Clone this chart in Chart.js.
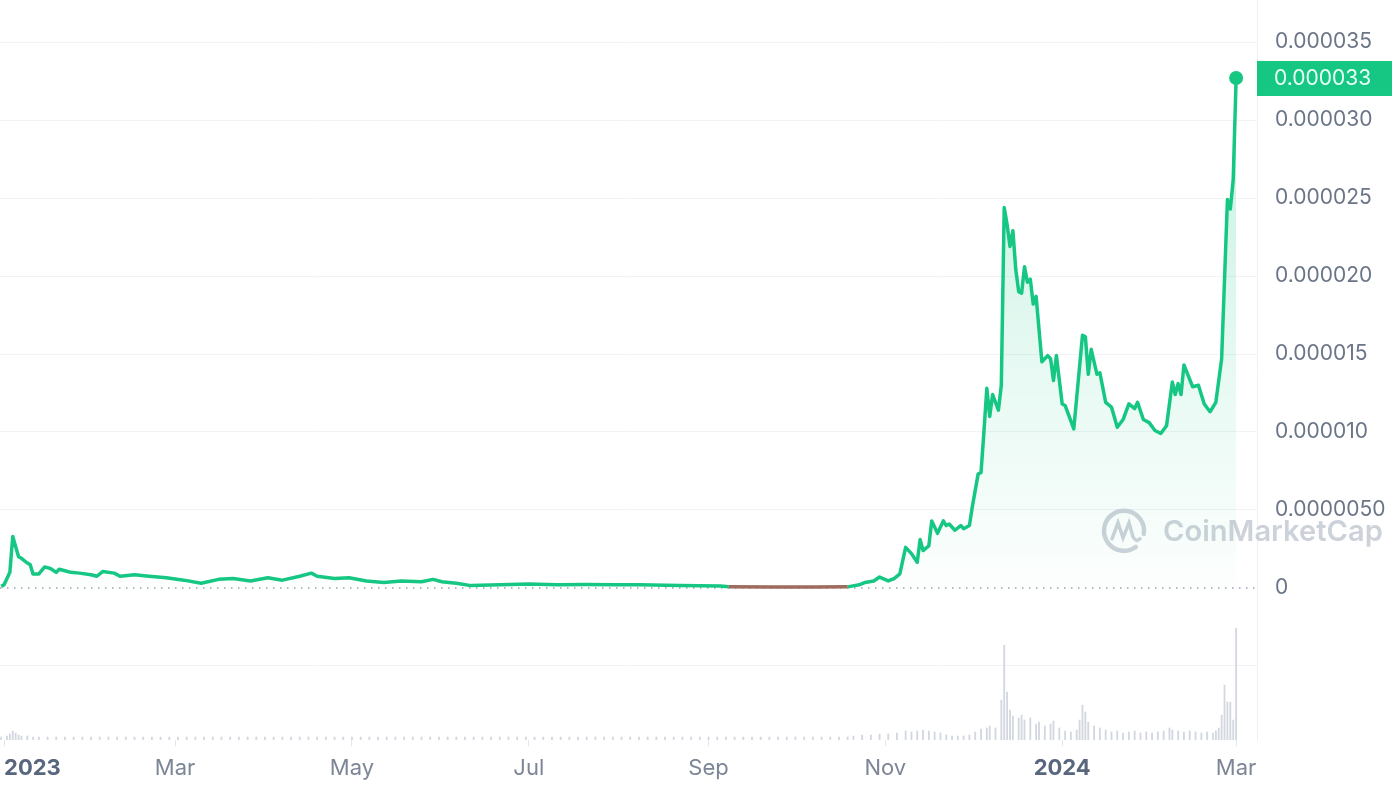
<!DOCTYPE html>
<html>
<head>
<meta charset="utf-8">
<script src="https://cdn.jsdelivr.net/npm/chart.js@4.4.1/dist/chart.umd.min.js"></script>
<style>
  html, body { margin: 0; padding: 0; background: #fff; }
  canvas { display: block; }
</style>
</head>
<body>
<canvas id="priceChart" width="1392" height="792"></canvas>
<script>
// days counted from 1 Jan 2023, price in millionths of a dollar
const priceDays = [
  -1, 0, 2, 3, 5, 6, 8, 9, 10, 12,
  14, 16, 18, 19, 21, 23, 26, 30, 32, 34,
  38, 40, 45, 50, 56, 62, 68, 74, 79, 85,
  91, 96, 102, 106, 108, 114, 119, 125, 131, 137,
  144, 148, 151, 156, 161, 171, 181, 191, 201, 211,
  219, 233, 247, 250, 265, 280, 291, 295, 297, 300,
  302, 305, 307, 309, 311, 313, 315, 316, 317, 319,
  320, 322, 324, 325, 326, 328, 330, 331, 333, 334,
  336, 337, 338, 339, 340, 341, 343, 344, 345, 346,
  347, 348, 349, 350, 351, 352, 353, 354, 355, 356,
  358, 360, 361, 362, 363, 365, 366, 369, 372, 373,
  374, 375, 377, 378, 380, 382, 384, 386, 388, 390,
  391, 393, 395, 397, 399, 401, 403, 404, 405, 406,
  407, 410, 412, 414, 416, 418, 420, 422, 423, 424,
  425
];
const priceMicro = [
  0.1, 0.2, 1.0, 3.3, 2.0, 1.9, 1.6, 1.5, 0.9, 0.9,
  1.35, 1.25, 1.0, 1.2, 1.1, 1.0, 0.95, 0.85, 0.75, 1.05,
  0.95, 0.75, 0.85, 0.75, 0.65, 0.5, 0.3, 0.55, 0.6, 0.45,
  0.65, 0.5, 0.75, 0.95, 0.75, 0.6, 0.65, 0.45, 0.35, 0.45,
  0.4, 0.55, 0.4, 0.3, 0.15, 0.2, 0.25, 0.2, 0.22, 0.2,
  0.2, 0.15, 0.12, 0.07, 0.06, 0.06, 0.07, 0.2, 0.35, 0.45,
  0.7, 0.45, 0.6, 0.9, 2.6, 2.2, 1.65, 3.1, 2.4, 2.7,
  4.3, 3.5, 4.3, 4.0, 4.1, 3.7, 4.0, 3.8, 4.0, 5.2,
  7.3, 7.4, 10.0, 12.8, 11.0, 12.4, 11.4, 13.0, 24.4, 23.3,
  21.9, 22.9, 20.4, 19.0, 18.9, 20.6, 19.6, 19.8, 18.2, 18.7,
  14.5, 14.9, 14.7, 13.3, 14.9, 11.8, 11.7, 10.2, 16.2, 16.1,
  13.7, 15.3, 13.7, 13.8, 11.9, 11.6, 10.3, 10.8, 11.8, 11.5,
  11.9, 10.8, 10.6, 10.1, 9.9, 10.4, 13.2, 12.4, 13.1, 12.4,
  14.3, 12.9, 13.0, 11.8, 11.3, 11.9, 14.7, 24.9, 24.3, 26.2,
  32.7
];
const lastPriceLabel = '0.000033';

// volume, relative units
const volDays = [
  -1, 1, 2, 3, 4, 5, 6, 8, 10, 12,
  15, 18, 21, 24, 27, 30, 33, 36, 39, 42,
  45, 48, 51, 54, 57, 60, 63, 66, 69, 72,
  75, 78, 81, 84, 87, 90, 93, 96, 99, 102,
  105, 108, 111, 114, 117, 120, 123, 126, 129, 132,
  135, 138, 141, 144, 147, 150, 153, 156, 159, 162,
  165, 168, 171, 174, 177, 180, 183, 186, 189, 192,
  195, 198, 201, 204, 207, 210, 213, 216, 219, 222,
  225, 228, 231, 234, 237, 240, 243, 246, 249, 252,
  255, 258, 261, 264, 267, 270, 273, 276, 279, 282,
  285, 288, 291, 293, 296, 299, 302, 305, 308, 311,
  313, 315, 317, 319, 321, 323, 325, 327, 329, 331,
  333, 335, 337, 339, 340, 342, 344, 345, 346, 347,
  348, 350, 351, 352, 354, 356, 357, 359, 361, 362,
  364, 366, 368, 370, 371, 372, 373, 374, 376, 378,
  380, 382, 384, 386, 388, 390, 392, 394, 396, 398,
  400, 402, 403, 405, 407, 409, 411, 413, 415, 417,
  418, 419, 420, 421, 422, 423, 424, 425
];
const volValues = [
  3, 4, 6, 9, 7, 5, 4, 4, 3, 3,
  3, 3, 3, 3, 3, 3, 3, 3, 3, 3,
  3, 3, 3, 3, 3, 3, 3, 3, 3, 3,
  3, 3, 3, 3, 3, 3, 3, 3, 3, 3,
  3, 3, 3, 3, 3, 3, 3, 3, 3, 3,
  3, 3, 3, 3, 3, 3, 3, 3, 3, 3,
  3, 3, 3, 3, 3, 3, 3, 3, 3, 3,
  3, 3, 3, 3, 3, 3, 3, 3, 3, 3,
  3, 3, 3, 3, 3, 3, 3, 3, 3, 3,
  3, 3, 3, 3, 3, 3, 3, 3, 3, 3,
  3, 3, 3, 4, 5, 5, 6, 6, 7, 9,
  8, 9, 10, 9, 8, 7, 5, 4, 4, 4,
  5, 8, 11, 12, 14, 12, 40, 95, 48, 30,
  24, 22, 25, 20, 22, 16, 18, 14, 16, 19,
  12, 9, 8, 10, 20, 35, 28, 18, 14, 12,
  10, 8, 9, 7, 8, 9, 7, 8, 7, 8,
  9, 12, 10, 9, 8, 9, 8, 7, 8, 7,
  9, 12, 25, 55, 38, 38, 20, 112
];

// x axis: month starts (days from 1 Jan 2023)
const xMin = -1.4;
const xMax = 432.2;
const monthTickDays = [0, 59, 120, 181, 243, 304, 365, 425, xMax];
const monthTickLabels = ['2023', 'Mar', 'May', 'Jul', 'Sep', 'Nov', '2024', 'Mar', ''];

// y axis (millionths)
const yMin = -9.75;
const yMax = 37.7;
const priceTickValues = [-5, 0, 5, 10, 15, 20, 25, 30, 35];
const priceTickLabels = ['', '0', '0.0000050', '0.000010', '0.000015', '0.000020', '0.000025', '0.000030', '0.000035'];

const GREEN = '#16c784';
const RED_LINE = '#9e6b5c';
const FONT = 'Inter, "Noto Sans", sans-serif';

const startPrice = priceMicro[0];
const lastIdx = priceMicro.length - 1;

const watermark = {
  id: 'watermark',
  beforeDatasetsDraw(chart) {
    const { ctx, chartArea } = chart;
    const yScale = chart.scales.y;
    const cy = yScale.getPixelForValue(3.6);
    const right = chartArea.right;
    ctx.save();
    ctx.fillStyle = '#cdd2da';
    ctx.strokeStyle = '#cdd2da';
    ctx.font = '600 30px ' + FONT;
    const w = ctx.measureText('CoinMarketCap').width;
    const size = 30 * 220 / w;
    ctx.font = '600 ' + size.toFixed(1) + 'px ' + FONT;
    ctx.textBaseline = 'middle';
    ctx.fillText('CoinMarketCap', right - 94, cy);
    // logo
    const lx = right - 133, ly = cy - 1;
    ctx.lineWidth = 4.5;
    ctx.lineCap = 'round';
    ctx.beginPath();
    ctx.arc(lx, ly, 20, 0.3 * Math.PI, 2.05 * Math.PI);
    ctx.stroke();
    ctx.lineWidth = 3.5;
    ctx.beginPath();
    ctx.moveTo(lx - 12, ly + 8);
    ctx.lineTo(lx - 6, ly - 8);
    ctx.lineTo(lx - 1, ly + 7);
    ctx.lineTo(lx + 5, ly - 8);
    ctx.lineTo(lx + 9, ly + 6);
    ctx.quadraticCurveTo(lx + 12, ly + 12, lx + 16, ly + 8);
    ctx.stroke();
    ctx.restore();
  }
};

const priceTag = {
  id: 'priceTag',
  afterDraw(chart) {
    const { ctx, chartArea } = chart;
    const y = chart.scales.y.getPixelForValue(priceMicro[lastIdx]);
    const left = chartArea.right;
    ctx.save();
    ctx.fillStyle = GREEN;
    ctx.fillRect(left, y - 17, chart.width - left, 35);
    ctx.fillStyle = '#eafff5';
    ctx.font = '21px ' + FONT;
    ctx.textBaseline = 'middle';
    ctx.fillText(lastPriceLabel, left + 17, y + 1);
    ctx.restore();
  }
};

const volMax = Math.max(...volValues);

new Chart(document.getElementById('priceChart'), {
  type: 'line',
  data: {
    datasets: [
      {
        label: 'price',
        data: priceDays.map((d, i) => ({ x: d, y: priceMicro[i] })),
        borderColor: GREEN,
        borderWidth: 3.5,
        borderJoinStyle: 'round',
        tension: 0,
        fill: 'origin',
        backgroundColor: (ctx) => {
          const chart = ctx.chart;
          const a = chart.chartArea;
          if (!a) return 'rgba(22,199,132,0.1)';
          const y0 = chart.scales.y.getPixelForValue(0);
          const g = chart.ctx.createLinearGradient(0, a.top, 0, y0);
          g.addColorStop(0, 'rgba(22,199,132,0.3)');
          g.addColorStop(0.6, 'rgba(22,199,132,0.11)');
          g.addColorStop(1, 'rgba(22,199,132,0.01)');
          return g;
        },
        pointRadius: (ctx) => ctx.dataIndex === lastIdx ? 7 : 0,
        pointBackgroundColor: GREEN,
        pointBorderWidth: 0,
        pointHoverRadius: 0,
        segment: {
          borderColor: (ctx) => (ctx.p0.parsed.y < startPrice && ctx.p1.parsed.y < startPrice) ? RED_LINE : undefined
        },
        order: 0
      },
      {
        label: 'zero',
        data: [{ x: xMin, y: 0 }, { x: xMax, y: 0 }],
        borderColor: '#9aa3b1',
        borderWidth: 1.5,
        borderDash: [1.5, 5.5],
        pointRadius: 0,
        fill: false,
        order: 1
      },
      {
        type: 'bar',
        label: 'volume',
        yAxisID: 'yv',
        data: volDays.map((d, i) => ({ x: d, y: volValues[i] })),
        backgroundColor: '#d3d8e0',
        barThickness: 1.2,
        order: 2
      }
    ]
  },
  options: {
    responsive: false,
    animation: false,
    events: [],
    layout: { padding: 0, autoPadding: false },
    plugins: {
      legend: { display: false },
      tooltip: { enabled: false }
    },
    scales: {
      x: {
        type: 'linear',
        min: xMin,
        max: xMax,
        offset: false,
        afterBuildTicks: (s) => { s.ticks = monthTickDays.map(v => ({ value: v })); },
        afterFit: (s) => { s.height = 52; s.paddingLeft = 0; s.paddingRight = 0; },
        ticks: {
          align: 'inner',
          autoSkip: false,
          maxRotation: 0,
          padding: 9,
          callback: (v, i) => monthTickLabels[i],
          font: (ctx) => {
            const lab = ctx.tick ? ctx.tick.label : '';
            return { family: FONT, size: 22, weight: /^20/.test(lab) ? '700' : '400' };
          },
          color: (ctx) => (ctx.tick && /^20/.test(ctx.tick.label)) ? '#58667e' : '#7d8696'
        },
        grid: {
          offset: false,
          drawOnChartArea: false,
          drawTicks: true,
          tickLength: 6,
          tickColor: (ctx) => (ctx.tick && ctx.tick.label) ? '#e3e6ea' : 'rgba(0,0,0,0)'
        },
        border: { display: false }
      },
      y: {
        position: 'right',
        min: yMin,
        max: yMax,
        afterBuildTicks: (s) => { s.ticks = priceTickValues.map(v => ({ value: v })); },
        afterFit: (s) => { s.width = 135; s.paddingTop = 0; s.paddingBottom = 0; },
        ticks: {
          callback: (v, i) => priceTickLabels[i],
          padding: 18,
          font: { family: FONT, size: 21 },
          color: '#6b7587'
        },
        grid: {
          drawTicks: false,
          color: (ctx) => (ctx.tick && ctx.tick.value === 0) ? 'rgba(0,0,0,0)' : '#f1f3f6'
        },
        border: { display: true, color: '#eef0f3' }
      },
      yv: {
        display: false,
        min: 0,
        max: volMax / 0.151
      }
    }
  },
  plugins: [watermark, priceTag]
});
</script>
</body>
</html>
